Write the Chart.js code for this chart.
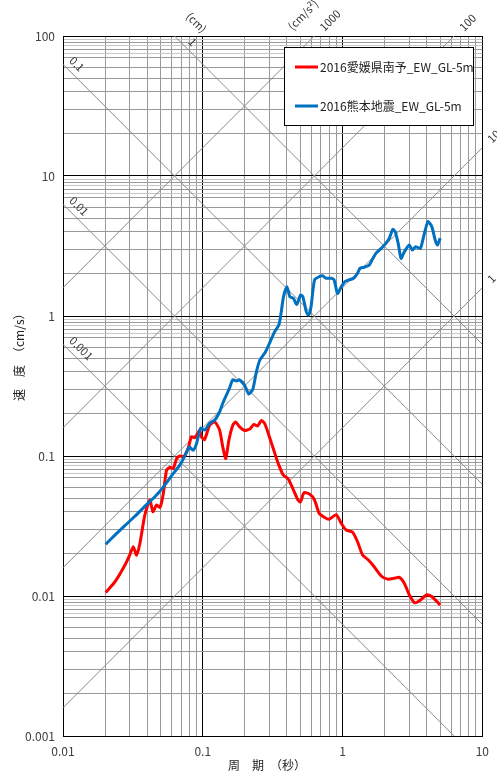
<!DOCTYPE html>
<html lang="ja">
<head>
<meta charset="utf-8">
<script src="https://cdn.jsdelivr.net/npm/chart.js@4.4.1/dist/chart.umd.min.js"></script>
<style>
  html, body { margin: 0; padding: 0; background: #fff; }
  canvas { display: block; }
</style>
</head>
<body>
<canvas id="spectrum" width="497" height="772"></canvas>
<script>
// 周期 (s) と 速度応答 (cm/s)
const periodEhime = [0.0202, 0.0235, 0.0277, 0.030, 0.0318, 0.0336, 0.0355, 0.0385, 0.0418, 0.044,
  0.0467, 0.0494, 0.052, 0.055, 0.058, 0.0615, 0.065, 0.0685, 0.0735, 0.0786,
  0.083, 0.0877, 0.095, 0.0977, 0.103, 0.112, 0.122, 0.132, 0.139, 0.146,
  0.154, 0.164, 0.172, 0.183, 0.199, 0.217, 0.232, 0.247, 0.262, 0.277,
  0.302, 0.327, 0.346, 0.376, 0.409, 0.44, 0.48, 0.50, 0.53, 0.58,
  0.63, 0.68, 0.74, 0.80, 0.90, 0.98, 1.06, 1.18, 1.28, 1.39,
  1.51, 1.65, 1.89, 2.1, 2.35, 2.55, 2.77, 3.0, 3.27, 3.55,
  4.0, 4.35, 4.67, 5.0];
const velEhime = [0.0106, 0.0126, 0.0166, 0.0196, 0.0225, 0.0196, 0.0238, 0.0379, 0.0485, 0.040,
  0.0446, 0.043, 0.0526, 0.079, 0.083, 0.0815, 0.096, 0.100, 0.0995, 0.1135,
  0.1375, 0.135, 0.153, 0.137, 0.131, 0.166, 0.175, 0.153, 0.116, 0.096,
  0.131, 0.166, 0.175, 0.162, 0.152, 0.156, 0.168, 0.164, 0.179, 0.171,
  0.134, 0.105, 0.0887, 0.0732, 0.0685, 0.0588, 0.0485, 0.047, 0.0547, 0.0535,
  0.0485, 0.039, 0.0365, 0.0353, 0.0381, 0.033, 0.0296, 0.0285, 0.0244, 0.0196,
  0.0183, 0.0166, 0.0139, 0.0132, 0.0134, 0.0136, 0.0123, 0.0102, 0.00896, 0.00925,
  0.0102, 0.0099, 0.00925, 0.00863];

const periodKumamoto = [0.0202, 0.0235, 0.0277, 0.0327, 0.0385, 0.0454, 0.049, 0.0534, 0.058, 0.063,
  0.0685, 0.074, 0.080, 0.0853, 0.090, 0.0966, 0.103, 0.112, 0.122, 0.132,
  0.139, 0.155, 0.164, 0.174, 0.183, 0.199, 0.213, 0.228, 0.242, 0.256,
  0.277, 0.30, 0.327, 0.35, 0.363, 0.378, 0.40, 0.42, 0.445, 0.47,
  0.50, 0.52, 0.55, 0.57, 0.595, 0.63, 0.68, 0.72, 0.76, 0.83,
  0.87, 0.92, 0.98, 1.04, 1.11, 1.20, 1.28, 1.33, 1.43, 1.55,
  1.65, 1.73, 1.89, 2.04, 2.16, 2.29, 2.38, 2.5, 2.62, 2.77,
  3.0, 3.16, 3.33, 3.6, 3.8, 4.08, 4.35, 4.6, 4.77, 5.0];
const velKumamoto = [0.0234, 0.0272, 0.0318, 0.0371, 0.0437, 0.0512, 0.0556, 0.062, 0.0693, 0.0773,
  0.086, 0.099, 0.116, 0.110, 0.122, 0.158, 0.153, 0.171, 0.181, 0.207,
  0.238, 0.304, 0.35, 0.343, 0.35, 0.321, 0.277, 0.30, 0.40, 0.485,
  0.541, 0.638, 0.773, 0.862, 1.045, 1.374, 1.62, 1.374, 1.337, 1.21,
  1.41, 1.374, 1.074, 1.016, 1.166, 1.81, 1.91, 1.94, 1.86, 1.86,
  1.81, 1.45, 1.62, 1.76, 1.81, 1.86, 2.02, 2.19, 2.23, 2.31,
  2.58, 2.8, 3.04, 3.3, 3.59, 4.16, 4.0, 3.3, 2.58, 2.88,
  3.21, 2.96, 3.13, 3.04, 3.69, 4.72, 4.35, 3.49, 3.21, 3.6];

const seriesNames = ['2016愛媛県南予_EW_GL-5m', '2016熊本地震_EW_GL-5m'];

const xTickLabels = ['0.01', '0.1', '1', '10'];
const yTickLabels = ['0.001', '0.01', '0.1', '1', '10', '100'];
const xMinor = [2, 3, 4, 5, 6, 7, 8, 9];
const yMinor = [2, 3, 4, 5, 6, 7, 7.5, 8, 8.5, 9, 9.5];

// 変位 (cm) と 加速度 (cm/s2) の斜め線
const dispLines = [0.001, 0.01, 0.1, 1];
const accLines = [1, 10, 100, 1000];

const FONT = '"Noto Sans CJK JP", "Noto Sans", sans-serif';
const TWO_PI = 2 * Math.PI;

function isDecade(v) {
  const l = Math.log10(v);
  return Math.abs(l - Math.round(l)) < 1e-6;
}
function isHalfStep(v) {
  const m = v / Math.pow(10, Math.floor(Math.log10(v) + 1e-9));
  return Math.abs(m - Math.round(m)) > 0.1;
}
function buildTicks(labels, minor) {
  const decades = labels.map(Number);
  const ticks = [];
  decades.forEach((d, i) => {
    ticks.push({ value: d });
    if (i < decades.length - 1) minor.forEach(m => ticks.push({ value: d * m }));
  });
  return ticks;
}
function tickLabel(labels) {
  return v => {
    const i = labels.map(Number).findIndex(d => Math.abs(d - v) < d * 1e-6);
    return i >= 0 ? labels[i] : '';
  };
}
function gridColor(ctx) {
  const v = ctx.tick && ctx.tick.value;
  if (!v) return '#999';
  if (isDecade(v)) return '#000';
  return isHalfStep(v) ? '#c4c4c4' : '#999';
}

const toPoints = (xs, ys) => xs.map((x, i) => ({ x: x, y: ys[i] }));

const refStyle = { borderColor: '#8a8a8a', borderWidth: 1, pointRadius: 0, showLine: true, order: 10 };
const refDatasets = [
  ...dispLines.map(d => ({ ...refStyle, data: [0.01, 10].map(t => ({ x: t, y: TWO_PI * d / t })) })),
  ...accLines.map(a => ({ ...refStyle, data: [0.01, 10].map(t => ({ x: t, y: a * t / TWO_PI })) }))
];

// 凡例、斜め線の目盛、軸タイトル
const spectrumNotes = {
  id: 'spectrumNotes',
  afterDatasetsDraw(chart) {
    const ctx = chart.ctx;
    ctx.save();
    ctx.fillStyle = '#fff';
    ctx.strokeStyle = '#000';
    ctx.lineWidth = 1;
    ctx.fillRect(284.5, 47.5, 189, 78);
    ctx.strokeRect(284.5, 47.5, 189, 78);
    const items = chart.data.datasets.filter(ds => ds.legendLabel);
    items.forEach((ds, i) => {
      const y = 67 + i * 39;
      ctx.strokeStyle = ds.borderColor;
      ctx.lineWidth = 3;
      ctx.beginPath();
      ctx.moveTo(295, y);
      ctx.lineTo(318, y);
      ctx.stroke();
      ctx.fillStyle = '#222';
      ctx.font = '12px ' + FONT;
      ctx.textAlign = 'left';
      ctx.textBaseline = 'middle';
      ctx.fillText(ds.legendLabel, 320, y);
    });
    ctx.restore();
  },
  afterDraw(chart) {
    const ctx = chart.ctx;
    const xs = chart.scales.x, ys = chart.scales.y;
    const tMin = xs.min, tMax = xs.max, vMax = ys.max;
    ctx.save();
    ctx.fillStyle = '#333';
    ctx.font = '11px ' + FONT;
    ctx.textBaseline = 'middle';

    const put = (px, py, angle, u, n, text, align) => {
      ctx.save();
      ctx.translate(px, py);
      ctx.rotate(angle);
      ctx.textAlign = align || 'left';
      ctx.fillText(text, u, -n);
      ctx.restore();
    };

    dispLines.forEach(d => {
      const vLeft = TWO_PI * d / tMin;
      if (vLeft <= vMax) {
        put(xs.getPixelForValue(tMin), ys.getPixelForValue(vLeft), Math.PI / 4, 2, 10, String(d));
      } else {
        const px = xs.getPixelForValue(TWO_PI * d / vMax), py = ys.getPixelForValue(vMax);
        put(px, py, Math.PI / 4, 14, 8.5, String(d));
        put(px, py, Math.PI / 4, 6, 25, '(cm)', 'center');
      }
    });
    accLines.forEach((a, i) => {
      const tTop = TWO_PI * vMax / a;
      let px, py;
      if (tTop <= tMax) {
        px = xs.getPixelForValue(tTop); py = ys.getPixelForValue(vMax);
      } else {
        px = xs.getPixelForValue(tMax); py = ys.getPixelForValue(a * tMax / TWO_PI);
      }
      put(px, py, -Math.PI / 4, 10, 0, String(a));
      if (i === accLines.length - 1) put(px, py, -Math.PI / 4, 7, 23, '(cm/s²)', 'center');
    });

    ctx.fillStyle = '#222';
    ctx.font = '12px ' + FONT;
    ctx.textAlign = 'left';
    ctx.fillText('周　期　（秒）', 228, 765);
    ctx.translate(19, 401);
    ctx.rotate(-Math.PI / 2);
    ctx.fillText('速　度　（cm/s）', 0, 0);
    ctx.restore();
  }
};

const axisFont = { family: FONT, size: 12 };

new Chart(document.getElementById('spectrum'), {
  type: 'scatter',
  data: {
    datasets: [
      {
        legendLabel: seriesNames[0],
        data: toPoints(periodEhime, velEhime),
        borderColor: '#ff0000', borderWidth: 3, showLine: true, pointRadius: 0,
        tension: 0.2, order: 1
      },
      {
        legendLabel: seriesNames[1],
        data: toPoints(periodKumamoto, velKumamoto),
        borderColor: '#0070c0', borderWidth: 3, showLine: true, pointRadius: 0,
        tension: 0.2, order: 0
      },
      ...refDatasets
    ]
  },
  options: {
    responsive: false,
    animation: false,
    layout: { padding: { top: 36, right: 14, left: 0, bottom: 0 } },
    plugins: { legend: { display: false }, tooltip: { enabled: false } },
    scales: {
      x: {
        type: 'logarithmic', min: 0.01, max: 10,
        afterBuildTicks: s => { s.ticks = buildTicks(xTickLabels, xMinor); },
        afterFit: s => { s.height = 36; },
        grid: { color: gridColor, lineWidth: 1, drawTicks: false },
        border: { color: '#000', width: 1 },
        ticks: { autoSkip: false, maxRotation: 0, padding: 8, color: '#404040', font: axisFont,
          callback: tickLabel(xTickLabels) }
      },
      y: {
        type: 'logarithmic', min: 0.001, max: 100,
        afterBuildTicks: s => { s.ticks = buildTicks(yTickLabels, yMinor); },
        afterFit: s => { s.width = 63; },
        grid: { color: gridColor, lineWidth: 1, drawTicks: false },
        border: { color: '#000', width: 1 },
        ticks: { autoSkip: false, padding: 8, color: '#404040', font: axisFont,
          callback: tickLabel(yTickLabels) }
      }
    }
  },
  plugins: [spectrumNotes]
});
</script>
</body>
</html>
